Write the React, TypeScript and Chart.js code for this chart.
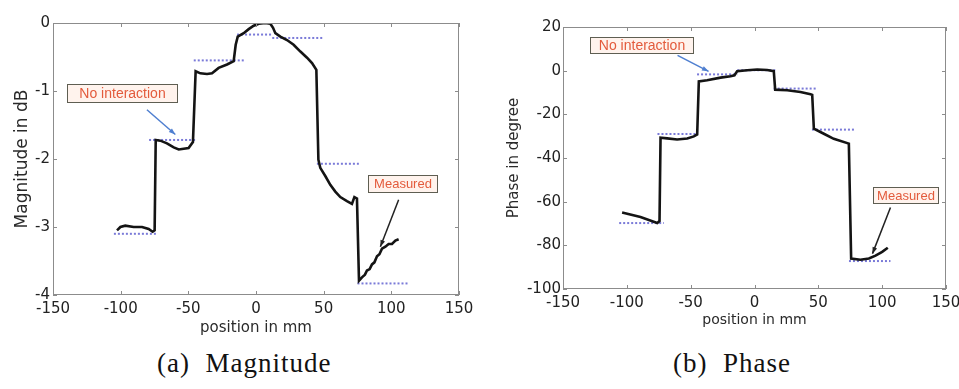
import React, { useEffect, useRef } from "react";
import { Chart, registerables } from "chart.js";

Chart.register(...registerables);

// ---------- data ----------
const xTickValues = [-150, -100, -50, 0, 50, 100, 150];

// (a) Magnitude: measured curve
const magX = [-102.7, -100.2, -96.6, -90.4, -84.2, -79.3, -76.4, -74.9, -74.1, -70.7, -65.8, -60.8, -57.1, -53.4, -49.8, -46.6, -44.6, -41.1, -36.2, -32.5, -27.6, -21.4, -16.5, -15, -13.5, -9.1, -5.4, -1.7, 2, 6.9, 10.6, 12.6, 14.3, 18, 22.9, 27.8, 32.8, 37.7, 41.4, 44.6, 46.1, 47.5, 51.2, 54.9, 58.6, 62.3, 67.2, 70.9, 72.7, 74.6, 76.1, 78.3, 80.5, 82, 84, 85.7, 87.5, 89.4, 91.2, 93.1, 95.6, 98, 100.5, 103, 105.4];
const magY = [-3.05, -3.0, -2.98, -3.0, -3.0, -3.03, -3.07, -3.05, -1.72, -1.73, -1.77, -1.83, -1.86, -1.85, -1.84, -1.75, -0.71, -0.74, -0.75, -0.74, -0.66, -0.61, -0.56, -0.32, -0.2, -0.15, -0.09, -0.04, -0.01, 0.0, -0.01, -0.07, -0.15, -0.2, -0.25, -0.32, -0.42, -0.51, -0.59, -0.69, -2.01, -2.13, -2.25, -2.38, -2.48, -2.56, -2.62, -2.66, -2.56, -2.58, -3.79, -3.74, -3.7, -3.64, -3.62, -3.55, -3.52, -3.43, -3.4, -3.32, -3.29, -3.25, -3.25, -3.2, -3.18];

// (a) Magnitude: "no interaction" reference levels
const magRefFrom = [-105, -79, -46, -14, 12, 45, 75];
const magRefTo = [-73, -45, -9, 12, 49, 76, 113];
const magRefLevel = [-3.1, -1.72, -0.55, -0.17, -0.22, -2.07, -3.83];

// (b) Phase: measured curve
const phaseX = [-103.7, -89.3, -76.2, -74.4, -73.6, -68.4, -60.6, -52.7, -47.5, -44.9, -43.6, -37.1, -26.6, -18.8, -15.7, -13.6, -5.7, 2.1, 9.9, 15.1, 16.2, 25.6, 36, 43.9, 45.2, 46.5, 54.3, 62.1, 73.9, 75.7, 83, 89.6, 94.8, 100, 104.4];
const phaseY = [-65.0, -67.0, -69.8, -68.9, -30.7, -31.0, -31.5, -31.1, -30.1, -29.2, -4.9, -4.4, -3.2, -2.6, -2.1, -0.3, 0.2, 0.5, 0.3, -0.2, -8.7, -9.0, -9.8, -10.8, -11.1, -26.6, -28.9, -31.2, -33.4, -86.1, -86.6, -86.0, -84.7, -83.0, -81.1];

// (b) Phase: "no interaction" reference levels
const phaseRefFrom = [-106, -76, -45, -13.5, 15, 45, 74];
const phaseRefTo = [-71, -45, -13.5, 16.5, 49, 79, 106.5];
const phaseRefLevel = [-69.8, -29, -1.7, 0.2, -8.2, -27, -87.2];

// annotations (labels + anchors in data units)
const noteLabels = ["No interaction", "Measured"];
const magNoteBoxes = [[-139.5, -0.9, -58.4, -1.16], [82.8, -2.24, 133.8, -2.49]];
const magNoteArrows = [[-80.6, -1.275, -59.6, -1.64], [105.4, -2.6, 91.9, -3.29]];
const phaseNoteBoxes = [[-129, 15.3, -47.8, 8.0], [93.2, -53.4, 144, -60.8]];
const phaseNoteArrows = [[-60.3, 7.0, -36, -0.3], [106.5, -62.7, 92.4, -83.8]];
const noteArrowColors = ["#4f7fd0", "#222222"];

const TICK_FONT = { family: "'DejaVu Sans', sans-serif", size: 15 };

function buildDatasets(xs: number[], ys: number[], from: number[], to: number[], lvl: number[]) {
  const sets: any[] = [
    {
      data: xs.map((x, i) => ({ x, y: ys[i] })),
      borderColor: "#141414",
      borderWidth: 2.6,
      pointRadius: 0,
      tension: 0,
    },
  ];
  from.forEach((f, i) => {
    sets.push({
      data: [{ x: f, y: lvl[i] }, { x: to[i], y: lvl[i] }],
      borderColor: "#7a7ad8",
      borderWidth: 2,
      borderDash: [2, 2],
      pointRadius: 0,
    });
  });
  return sets;
}

function framePlugin(boxes: number[][], arrows: number[][]) {
  return {
    id: "frame",
    afterDraw(chart: any) {
      const { ctx, chartArea: a } = chart;
      const xs = chart.scales.x;
      const ys = chart.scales.y;
      ctx.save();
      ctx.strokeStyle = "#8c8c8c";
      ctx.lineWidth = 1;
      ctx.strokeRect(a.left + 0.5, a.top + 0.5, a.right - a.left - 1, a.bottom - a.top - 1);
      const len = 4;
      ctx.beginPath();
      xs.ticks.forEach((t: any) => {
        const px = Math.round(xs.getPixelForValue(t.value)) + 0.5;
        ctx.moveTo(px, a.bottom);
        ctx.lineTo(px, a.bottom - len);
        ctx.moveTo(px, a.top);
        ctx.lineTo(px, a.top + len);
      });
      ys.ticks.forEach((t: any) => {
        const py = Math.round(ys.getPixelForValue(t.value)) + 0.5;
        ctx.moveTo(a.left, py);
        ctx.lineTo(a.left + len, py);
        ctx.moveTo(a.right, py);
        ctx.lineTo(a.right - len, py);
      });
      ctx.stroke();

      // arrows
      arrows.forEach((ar, i) => {
        const x1 = xs.getPixelForValue(ar[0]);
        const y1 = ys.getPixelForValue(ar[1]);
        const x2 = xs.getPixelForValue(ar[2]);
        const y2 = ys.getPixelForValue(ar[3]);
        ctx.strokeStyle = noteArrowColors[i];
        ctx.fillStyle = noteArrowColors[i];
        ctx.lineWidth = 1.5;
        ctx.beginPath();
        ctx.moveTo(x1, y1);
        ctx.lineTo(x2, y2);
        ctx.stroke();
        const ang = Math.atan2(y2 - y1, x2 - x1);
        const hl = 7;
        ctx.beginPath();
        ctx.moveTo(x2, y2);
        ctx.lineTo(x2 - hl * Math.cos(ang - 0.35), y2 - hl * Math.sin(ang - 0.35));
        ctx.lineTo(x2 - hl * Math.cos(ang + 0.35), y2 - hl * Math.sin(ang + 0.35));
        ctx.closePath();
        ctx.fill();
      });

      // text boxes
      boxes.forEach((b, i) => {
        const x1 = Math.round(xs.getPixelForValue(b[0])) + 0.5;
        const y1 = Math.round(ys.getPixelForValue(b[1])) + 0.5;
        const x2 = Math.round(xs.getPixelForValue(b[2])) + 0.5;
        const y2 = Math.round(ys.getPixelForValue(b[3])) + 0.5;
        ctx.fillStyle = "rgba(255,242,236,0.95)";
        ctx.fillRect(x1, y1, x2 - x1, y2 - y1);
        ctx.strokeStyle = "#5e5e52";
        ctx.lineWidth = 1;
        ctx.strokeRect(x1, y1, x2 - x1, y2 - y1);
        ctx.fillStyle = "#e35b3c";
        ctx.font = (i === 0 ? "14px" : "13px") + " 'Liberation Sans', Arial, sans-serif";
        ctx.textAlign = "center";
        ctx.textBaseline = "middle";
        ctx.fillText(noteLabels[i], (x1 + x2) / 2, (y1 + y2) / 2 + 0.5);
      });
      ctx.restore();
    },
  };
}

function makeConfig(opts: {
  datasets: any[];
  yMin: number;
  yMax: number;
  yStep: number;
  yTitle: string;
  yTitleSize: number;
  yTitlePad: number;
  yWidth: number;
  xHeight: number;
  xTitleSize: number;
  xTitlePad: number;
  yLabelPad: number;
  plugin: any;
  top: number;
  right: number;
}) {
  return {
    type: "line",
    data: { datasets: opts.datasets },
    options: {
      responsive: false,
      animation: false,
      events: [],
      layout: { padding: { top: opts.top, right: opts.right, left: 0, bottom: 0 } },
      plugins: { legend: { display: false }, tooltip: { enabled: false } },
      scales: {
        x: {
          type: "linear",
          min: -150,
          max: 150,
          afterBuildTicks: (s: any) => {
            s.ticks = xTickValues.map((v) => ({ value: v }));
          },
          ticks: { font: TICK_FONT, color: "#222222", padding: 5, autoSkip: false, maxRotation: 0 },
          grid: { display: false, drawTicks: false },
          border: { display: false },
          title: {
            display: true,
            text: "position in mm",
            color: "#2a2a2a",
            font: { family: "'DejaVu Sans', sans-serif", size: opts.xTitleSize },
            padding: { top: 0, bottom: opts.xTitlePad },
          },
          afterFit: (s: any) => {
            s.height = opts.xHeight;
            s.paddingLeft = 0;
            s.paddingRight = 0;
          },
        },
        y: {
          type: "linear",
          min: opts.yMin,
          max: opts.yMax,
          ticks: { font: TICK_FONT, color: "#222222", padding: opts.yLabelPad, stepSize: opts.yStep, autoSkip: false },
          grid: { display: false, drawTicks: false },
          border: { display: false },
          title: {
            display: true,
            text: opts.yTitle,
            color: "#2a2a2a",
            font: { family: "'DejaVu Sans', sans-serif", size: opts.yTitleSize },
            padding: { top: opts.yTitlePad, bottom: 0 },
          },
          afterFit: (s: any) => {
            s.width = opts.yWidth;
            s.paddingTop = 0;
            s.paddingBottom = 0;
          },
        },
      },
    },
    plugins: [opts.plugin],
  } as any;
}

export default function App() {
  const magRef = useRef<HTMLCanvasElement | null>(null);
  const phaseRef = useRef<HTMLCanvasElement | null>(null);

  useEffect(() => {
    document.body.style.margin = "0";
    const c1 = new Chart(
      magRef.current as HTMLCanvasElement,
      makeConfig({
        datasets: buildDatasets(magX, magY, magRefFrom, magRefTo, magRefLevel),
        yMin: -4,
        yMax: 0,
        yStep: 1,
        yTitle: "Magnitude in dB",
        yTitleSize: 17,
        yTitlePad: 12,
        yWidth: 53,
        xHeight: 50,
        xTitleSize: 15,
        xTitlePad: 8,
        yLabelPad: 3,
        plugin: framePlugin(magNoteBoxes, magNoteArrows),
        top: 23,
        right: 21,
      })
    );
    const c2 = new Chart(
      phaseRef.current as HTMLCanvasElement,
      makeConfig({
        datasets: buildDatasets(phaseX, phaseY, phaseRefFrom, phaseRefTo, phaseRefLevel),
        yMin: -100,
        yMax: 20,
        yStep: 20,
        yTitle: "Phase in degree",
        yTitleSize: 15,
        yTitlePad: 25,
        yWidth: 83,
        xHeight: 56,
        xTitleSize: 14,
        xTitlePad: 16,
        yLabelPad: 2,
        plugin: framePlugin(phaseNoteBoxes, phaseNoteArrows),
        top: 27,
        right: 13,
      })
    );
    return () => {
      c1.destroy();
      c2.destroy();
    };
  }, []);

  const caption: React.CSSProperties = {
    position: "absolute",
    top: 348,
    fontFamily: "'Liberation Serif', 'Times New Roman', serif",
    fontSize: 27,
    lineHeight: "30px",
    letterSpacing: 1,
    whiteSpace: "pre",
    color: "#111",
  };

  return (
    <div style={{ position: "absolute", left: 0, top: 0, width: 959, height: 389, background: "#fff", overflow: "hidden" }}>
      <canvas ref={magRef} width={480} height={345} style={{ position: "absolute", left: 0, top: 0, width: 480, height: 345 }} />
      <canvas ref={phaseRef} width={479} height={345} style={{ position: "absolute", left: 480, top: 0, width: 479, height: 345 }} />
      <div style={{ ...caption, left: 157 }}>{"(a)  Magnitude"}</div>
      <div style={{ ...caption, left: 673 }}>{"(b)  Phase"}</div>
    </div>
  );
}
